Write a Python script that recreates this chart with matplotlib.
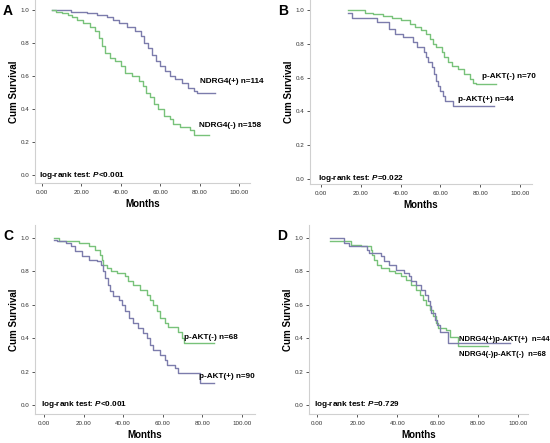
import matplotlib
matplotlib.use("Agg")
import matplotlib.pyplot as plt

plt.rcParams['font.family'] = ['Liberation Sans', 'DejaVu Sans']
plt.rcParams['mathtext.fontset'] = 'custom'
plt.rcParams['mathtext.bfit'] = 'Liberation Sans:bold:italic'
plt.rcParams['mathtext.it'] = 'Liberation Sans:italic'
plt.rcParams['mathtext.bf'] = 'Liberation Sans:bold'
plt.rcParams['mathtext.rm'] = 'Liberation Sans'

PURPLE = '#7c7cac'
GREEN = '#78c27a'

# ---- panel A: NDRG4 ----
a_pos_t = [5, 14.5, 23, 28, 33, 36, 39, 43, 47, 50, 52, 54, 56, 58, 60, 62.5, 65, 67.5, 71, 74, 77, 78.5, 88]
a_pos_s = [1.0, 0.99, 0.98, 0.97, 0.96, 0.94, 0.92, 0.90, 0.87, 0.84, 0.80, 0.77, 0.73, 0.69, 0.66, 0.63, 0.60, 0.58, 0.56, 0.53, 0.51, 0.50, 0.50]
a_neg_t = [5, 7, 10, 13, 15, 18, 21, 24.5, 27, 28.7, 30.4, 32, 34.6, 37, 40, 42, 45.6, 49, 51.5, 53, 55, 56.7, 59, 61.7, 65, 66.7, 70, 75, 77, 85]
a_neg_s = [1.0, 0.99, 0.98, 0.97, 0.96, 0.94, 0.92, 0.90, 0.87, 0.83, 0.78, 0.74, 0.71, 0.69, 0.66, 0.62, 0.60, 0.57, 0.54, 0.50, 0.47, 0.43, 0.40, 0.36, 0.34, 0.31, 0.29, 0.27, 0.24, 0.24]

# ---- panel B: p-AKT ----
b_neg_t = [13.7, 22, 26, 31, 35.5, 40, 44.7, 47, 50.5, 53, 55, 56.5, 58, 60.6, 62, 64, 65.7, 69, 72, 75, 76.5, 78, 88]
b_neg_s = [1.0, 0.985, 0.975, 0.965, 0.95, 0.94, 0.92, 0.90, 0.88, 0.86, 0.83, 0.80, 0.78, 0.75, 0.72, 0.69, 0.67, 0.65, 0.62, 0.59, 0.57, 0.56, 0.56]
b_pos_t = [13.7, 15.7, 28, 34, 37, 41, 46, 48, 52, 53, 54, 55.6, 57, 58, 59, 60, 61.5, 62.3, 66.5, 87]
b_pos_s = [0.98, 0.955, 0.93, 0.89, 0.86, 0.84, 0.81, 0.78, 0.75, 0.72, 0.69, 0.66, 0.62, 0.58, 0.55, 0.52, 0.49, 0.46, 0.43, 0.43]

# ---- panel C: p-AKT ----
c_neg_t = [5, 7.5, 17.6, 22.6, 26, 28.5, 29.3, 30, 31.8, 34, 36.8, 41, 42.5, 45, 48.6, 52, 53.6, 55.3, 57, 58.6, 61, 62.8, 67.8, 69.5, 70.9, 71.5, 86]
c_neg_s = [1.0, 0.98, 0.97, 0.95, 0.93, 0.90, 0.87, 0.84, 0.82, 0.80, 0.79, 0.77, 0.74, 0.72, 0.69, 0.66, 0.63, 0.60, 0.56, 0.52, 0.49, 0.47, 0.44, 0.40, 0.37, 0.37, 0.37]
c_pos_t = [5, 6.7, 10.9, 13.4, 15.9, 19, 22.6, 26.8, 29, 30, 31, 32.2, 33.5, 35, 37.7, 39.4, 41, 42.7, 45, 47.7, 50, 52, 53.6, 55.3, 58.6, 61, 62, 66, 67.8, 78.7, 85.7]
c_pos_s = [0.99, 0.98, 0.97, 0.95, 0.92, 0.89, 0.87, 0.86, 0.84, 0.80, 0.76, 0.72, 0.68, 0.65, 0.63, 0.60, 0.56, 0.52, 0.49, 0.46, 0.43, 0.40, 0.36, 0.33, 0.30, 0.27, 0.24, 0.22, 0.19, 0.13, 0.13]

# ---- panel D: NDRG4(+)p-AKT(+) vs NDRG4(-)p-AKT(-) ----
d_pos_t = [6.7, 13.4, 15.9, 25, 26, 28.4, 31.8, 33.4, 36, 39.3, 43.5, 46, 46.8, 49.3, 51.8, 53.5, 55.2, 56, 56.9, 58.5, 59.9, 61, 65, 96]
d_pos_s = [1.0, 0.97, 0.955, 0.93, 0.91, 0.91, 0.89, 0.86, 0.84, 0.81, 0.79, 0.77, 0.74, 0.72, 0.69, 0.66, 0.62, 0.59, 0.55, 0.51, 0.48, 0.44, 0.37, 0.37]
d_neg_t = [6.7, 16.7, 21.7, 26.7, 27.6, 28.4, 30, 31.7, 33.4, 36, 39, 41.8, 44.3, 46.8, 49.3, 51, 52.7, 54.3, 56, 57.7, 59.4, 60.2, 64.4, 66, 70, 85]
d_neg_s = [0.985, 0.96, 0.955, 0.93, 0.90, 0.87, 0.84, 0.82, 0.82, 0.80, 0.79, 0.77, 0.75, 0.72, 0.69, 0.66, 0.63, 0.60, 0.57, 0.53, 0.49, 0.46, 0.45, 0.41, 0.355, 0.355]

panels = [
    dict(letter='A', box=(35, 0, 250, 183), x0=42, xs=1.97, y0=175, ys=165,
         curves=[(a_pos_t, a_pos_s, PURPLE), (a_neg_t, a_neg_s, GREEN)],
         labels=[('NDRG4(+) n=114', 80.2, 0.565), ('NDRG4(-) n=158', 79.9, 0.297)],
         test='log-rank test: $\\mathbfit{P}$<0.001'),
    dict(letter='B', box=(310, 0, 532, 184), x0=321, xs=1.99, y0=179, ys=169,
         curves=[(b_neg_t, b_neg_s, GREEN), (b_pos_t, b_pos_s, PURPLE)],
         labels=[('p-AKT(-) n=70', 81, 0.605), ('p-AKT(+) n=44', 69, 0.473)],
         test='log-rank test: $\\mathbfit{P}$=0.022'),
    dict(letter='C', box=(35, 225, 255, 414), x0=44, xs=1.98, y0=405, ys=167,
         curves=[(c_neg_t, c_neg_s, GREEN), (c_pos_t, c_pos_s, PURPLE)],
         labels=[('p-AKT(-) n=68', 70.9, 0.405), ('p-AKT(+) n=90', 78.4, 0.17)],
         test='log-rank test: $\\mathbfit{P}$<0.001'),
    dict(letter='D', box=(309, 225, 528, 414), x0=317, xs=2.01, y0=405, ys=167,
         curves=[(d_neg_t, d_neg_s, GREEN), (d_pos_t, d_pos_s, PURPLE)],
         labels=[('NDRG4(+)p-AKT(+)  n=44', 70.4, 0.39), ('NDRG4(-)p-AKT(-)  n=68', 70.4, 0.30)],
         test='log-rank test: $\\mathbfit{P}$=0.729'),
]

W, H = 550, 443
fig = plt.figure(figsize=(W / 100, H / 100), dpi=100)
fig.patch.set_facecolor('white')

for p in panels:
    l, t, r, b = p['box']
    ax = fig.add_axes([l / W, 1 - b / H, (r - l) / W, (b - t) / H])
    ax.set_xlim((l - p['x0']) / p['xs'], (r - p['x0']) / p['xs'])
    ax.set_ylim((p['y0'] - b) / p['ys'], (p['y0'] - t) / p['ys'])
    for tt, ss, col in p['curves']:
        ax.step(tt, ss, where='post', color=col, lw=1.0)
    fs = 5.5 if p['letter'] == 'D' else 5.9
    for txt, x, y in p['labels']:
        ax.text(x, y, txt, fontsize=fs, fontweight='bold', ha='left', va='center')
    ax.text(-1.5, 0.0, p['test'], fontsize=5.9, fontweight='bold', ha='left', va='center')

    for s in ['top', 'right']:
        ax.spines[s].set_visible(False)
    for s in ['left', 'bottom']:
        ax.spines[s].set_color('#d0d0d0')
        ax.spines[s].set_linewidth(0.8)
    ax.set_xticks([0, 20, 40, 60, 80, 100])
    ax.set_xticklabels(['0.00', '20.00', '40.00', '60.00', '80.00', '100.00'])
    ax.set_yticks([0, 0.2, 0.4, 0.6, 0.8, 1.0])
    ax.set_yticklabels(['0.0', '0.2', '0.4', '0.6', '0.8', '1.0'])
    ax.tick_params(labelsize=4.5, labelcolor='#333333', color='#555555', length=2.5, width=0.7, pad=1.5)
    ax.tick_params(axis='x', pad=2.5)
    ax.set_xlabel('Months', fontsize=7, fontweight='bold', labelpad=3)
    ax.set_ylabel('Cum Survival', fontsize=7, fontweight='bold', labelpad=1)
    fig.text((l - 35 + 3) / W, 1 - (t + 11) / H, p['letter'], fontsize=10, fontweight='bold',
             ha='left', va='center')

fig.savefig('out.png', dpi=100)
